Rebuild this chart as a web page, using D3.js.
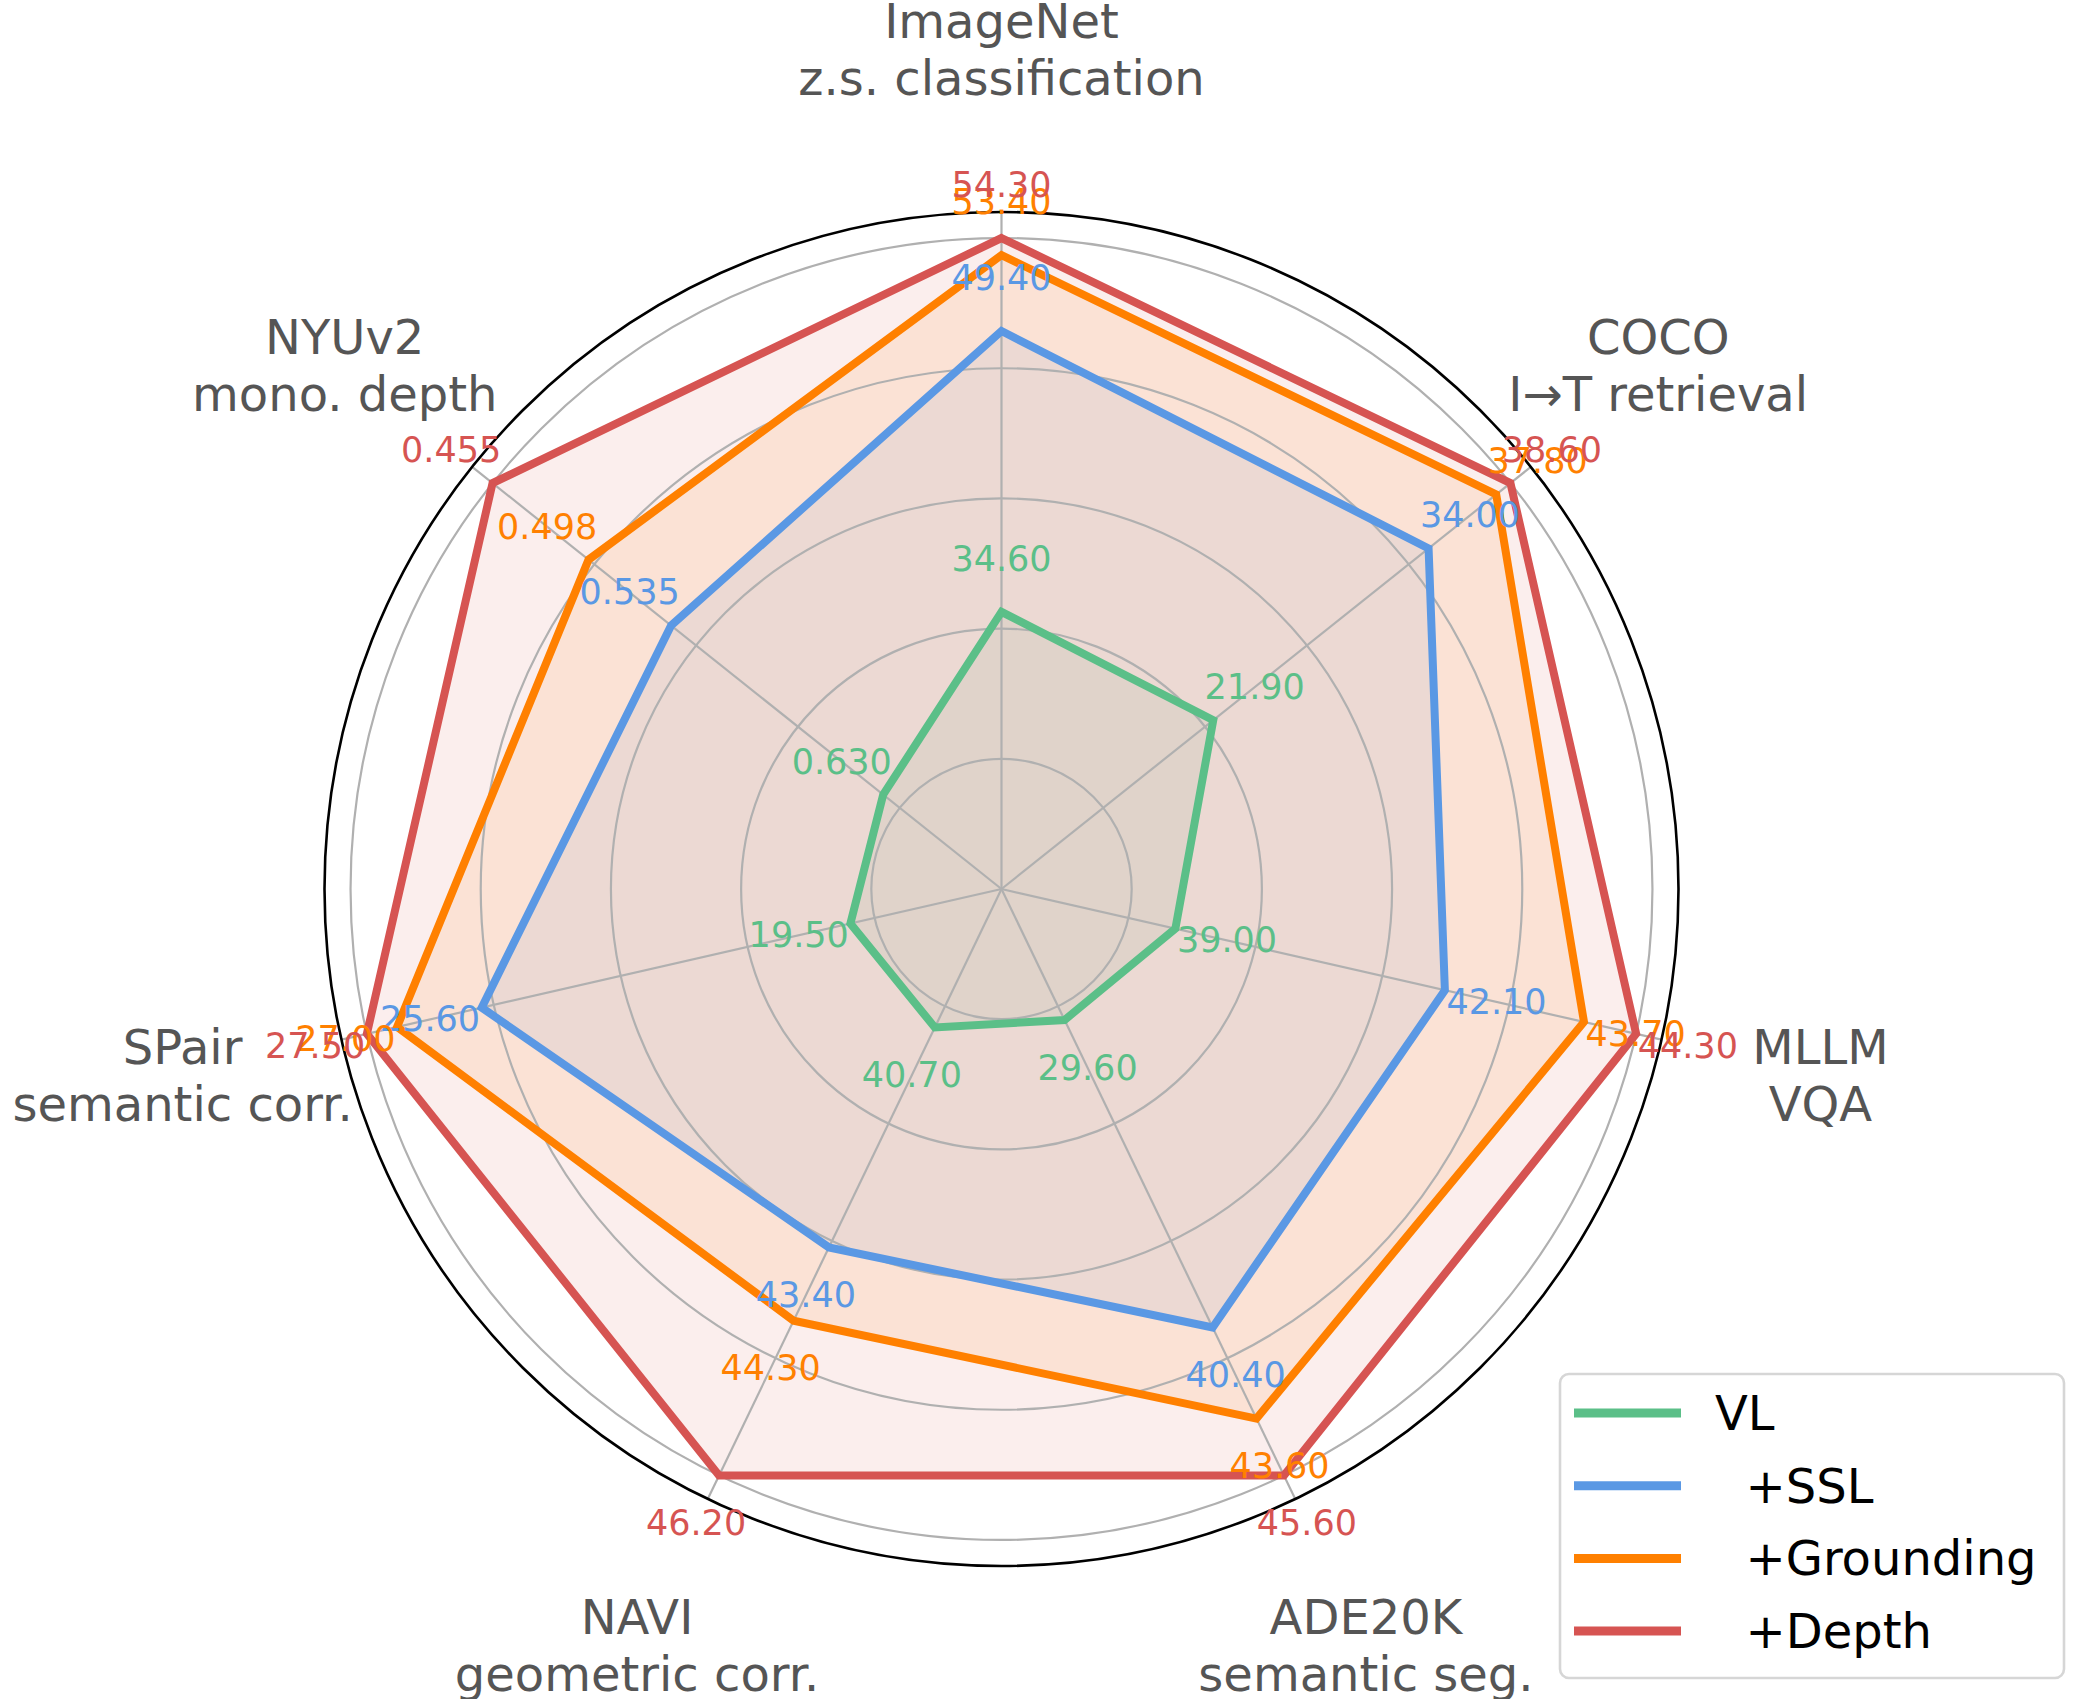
<!DOCTYPE html>
<html>
<head>
<meta charset="utf-8">
<script src="https://cdn.jsdelivr.net/npm/d3@7"></script>
<style>
  body { margin: 0; background: #fff; }
  svg { display: block; }
</style>
</head>
<body>
<svg width="2074" height="1699"></svg>
<script>
// axes, clockwise from the top
var axisNames = [
    ['ImageNet', 'z.s. classification'],
    ['COCO', 'I\u2192T retrieval'],
    ['MLLM', 'VQA'],
    ['ADE20K', 'semantic seg.'],
    ['NAVI', 'geometric corr.'],
    ['SPair', 'semantic corr.'],
    ['NYUv2', 'mono. depth']
]
// value that sits at the centre of each axis (NYUv2: lower is better)
var axisFloor = [20, 10, 37, 25, 39, 17, 0.683]
var lowerIsBetter = [false, false, false, false, false, false, true]
var valueFormat = ['.2f', '.2f', '.2f', '.2f', '.2f', '.2f', '.3f']

var seriesNames = ['VL', '  +SSL', '  +Grounding', '  +Depth']
var vl        = [34.6, 21.9, 39.0, 29.6, 40.7, 19.5, 0.630]
var ssl       = [49.4, 34.0, 42.1, 40.4, 43.4, 25.6, 0.535]
var grounding = [53.4, 37.8, 43.7, 43.6, 44.3, 27.0, 0.498]
var depth     = [54.3, 38.6, 44.3, 45.6, 46.2, 27.5, 0.455]
var seriesValues = [vl, ssl, grounding, depth]
var seriesColors = ['#5bbf88', '#5a98e4', '#ff8000', '#d65452']

var ringTicks = [0.2, 0.4, 0.6, 0.8, 1.0]

var svg = d3.select('svg')
var cx = 1001.5, cy = 889
var font = "'DejaVu Sans', sans-serif"

var r = d3.scaleLinear().domain([0, 1.04]).range([0, 677])
var angle = d3.scaleLinear().domain([0, axisNames.length]).range([0, 2 * Math.PI])

// one radial scale per axis, from the floor to the best value
var axisScales = axisNames.map(function(d, i){
    var col = seriesValues.map(function(s){ return s[i] })
    var best = lowerIsBetter[i] ? d3.min(col) : d3.max(col)
    return d3.scaleLinear().domain([axisFloor[i], best]).range([0, 1])
})

function pt(i, rad) {
    var a = angle(i)
    return [cx + rad * Math.sin(a), cy - rad * Math.cos(a)]
}

var g = svg.append('g')

// fills
seriesValues.forEach(function(vals, s){
    var pts = vals.map(function(v, i){ return pt(i, r(axisScales[i](v))) })
    g.append('polygon')
        .attr('points', pts.map(function(p){ return p.join(',') }).join(' '))
        .attr('fill', seriesColors[s])
        .attr('fill-opacity', 0.1)
        .attr('stroke', 'none')
})

// grid
g.selectAll('circle.ring')
    .data(ringTicks)
    .enter()
    .append('circle')
    .attr('cx', cx)
    .attr('cy', cy)
    .attr('r', function(d){ return r(d) })
    .attr('fill', 'none')
    .attr('stroke', '#b0b0b0')
    .attr('stroke-width', 2.2)

g.selectAll('line.spoke')
    .data(axisNames)
    .enter()
    .append('line')
    .attr('x1', cx)
    .attr('y1', cy)
    .attr('x2', function(d, i){ return pt(i, r(1.04))[0] })
    .attr('y2', function(d, i){ return pt(i, r(1.04))[1] })
    .attr('stroke', '#b0b0b0')
    .attr('stroke-width', 2.2)

// series outlines
var line = d3.line().curve(d3.curveLinearClosed)
seriesValues.forEach(function(vals, s){
    var pts = vals.map(function(v, i){ return pt(i, r(axisScales[i](v))) })
    g.append('path')
        .attr('d', line(pts))
        .attr('fill', 'none')
        .attr('stroke', seriesColors[s])
        .attr('stroke-width', 8)
        .attr('stroke-linejoin', 'miter')
})

// outer spine
g.append('circle')
    .attr('cx', cx)
    .attr('cy', cy)
    .attr('r', r(1.04))
    .attr('fill', 'none')
    .attr('stroke', '#000')
    .attr('stroke-width', 2.6)

// value labels
seriesValues.forEach(function(vals, s){
    g.selectAll('text.v' + s)
        .data(vals)
        .enter()
        .append('text')
        .attr('x', function(v, i){ return pt(i, r(axisScales[i](v)) + 53)[0] })
        .attr('y', function(v, i){ return pt(i, r(axisScales[i](v)) + 53)[1] })
        .attr('text-anchor', 'middle')
        .attr('dominant-baseline', 'central')
        .attr('font-family', font)
        .attr('font-size', 35)
        .attr('fill', seriesColors[s])
        .text(function(v, i){ return d3.format(valueFormat[i])(v) })
})

// axis labels
axisNames.forEach(function(lines, i){
    var p = pt(i, 840)
    lines.forEach(function(t, k){
        g.append('text')
            .attr('x', p[0])
            .attr('y', p[1] + (k - 0.5) * 57)
            .attr('text-anchor', 'middle')
            .attr('dominant-baseline', 'central')
            .attr('font-family', font)
            .attr('font-size', 48)
            .attr('fill', '#555555')
            .text(t)
    })
})

// legend
var legend = svg.append('g')
legend.append('rect')
    .attr('x', 1560)
    .attr('y', 1374)
    .attr('width', 504)
    .attr('height', 304)
    .attr('rx', 9)
    .attr('fill', '#fff')
    .attr('fill-opacity', 0.8)
    .attr('stroke', '#d6d6d6')
    .attr('stroke-width', 2.6)

seriesNames.forEach(function(name, s){
    var y = 1413 + s * 72.7
    legend.append('line')
        .attr('x1', 1574)
        .attr('x2', 1681)
        .attr('y1', y)
        .attr('y2', y)
        .attr('stroke', seriesColors[s])
        .attr('stroke-width', 9)
    legend.append('text')
        .attr('x', 1715)
        .attr('y', y)
        .attr('dominant-baseline', 'central')
        .attr('font-family', font)
        .attr('font-size', 48)
        .attr('fill', '#000')
        .style('white-space', 'pre')
        .text(name)
})
</script>
</body>
</html>
